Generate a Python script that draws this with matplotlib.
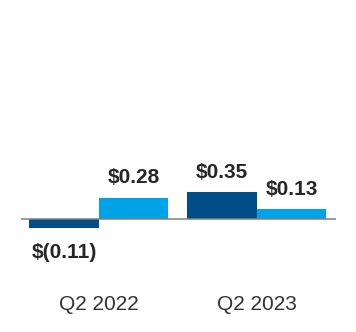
import matplotlib.pyplot as plt
import numpy as np

plt.rcParams['font.family'] = ['Liberation Sans', 'DejaVu Sans']

quarters = ["Q2 2022", "Q2 2023"]
eps_gaap = [-0.11, 0.35]
eps_adjusted = [0.28, 0.13]
labels_gaap = ["$(0.11)", "$0.35"]
labels_adjusted = ["$0.28", "$0.13"]

dark_blue = "#024C88"
light_blue = "#00A2E8"

fig = plt.figure(figsize=(3.56, 3.32), dpi=100)
ax = fig.add_axes([20.7 / 356, 92 / 332, (336 - 20.7) / 356, 100 / 332])

x = np.arange(len(quarters))
w = 0.439
b1 = ax.bar(x - w / 2, eps_gaap, w, color=dark_blue)
b2 = ax.bar(x + w / 2, eps_adjusted, w, color=light_blue)

ax.axhline(0, color="#808080", lw=1.1, zorder=3)

for bars, labels in ((b1, labels_gaap), (b2, labels_adjusted)):
    for rect, lab in zip(bars, labels):
        v = rect.get_height()
        cx = rect.get_x() + rect.get_width() / 2
        off = 14.4 if v >= 0 else -17.3
        ax.annotate(lab, (cx, v), xytext=(0, off), textcoords="offset points",
                    ha="center", va="center", fontsize=15, fontweight="bold",
                    color="#262626")

ax.set_xlim(-0.493, 1.5)
ax.set_ylim(-0.263, 1.019)
ax.set_xticks(x)
ax.set_xticklabels(quarters, fontsize=15, color="#333333")
ax.tick_params(axis="x", length=0, pad=39.5)
ax.set_yticks([])
for s in ax.spines.values():
    s.set_visible(False)

fig.savefig("out.png", dpi=100)
